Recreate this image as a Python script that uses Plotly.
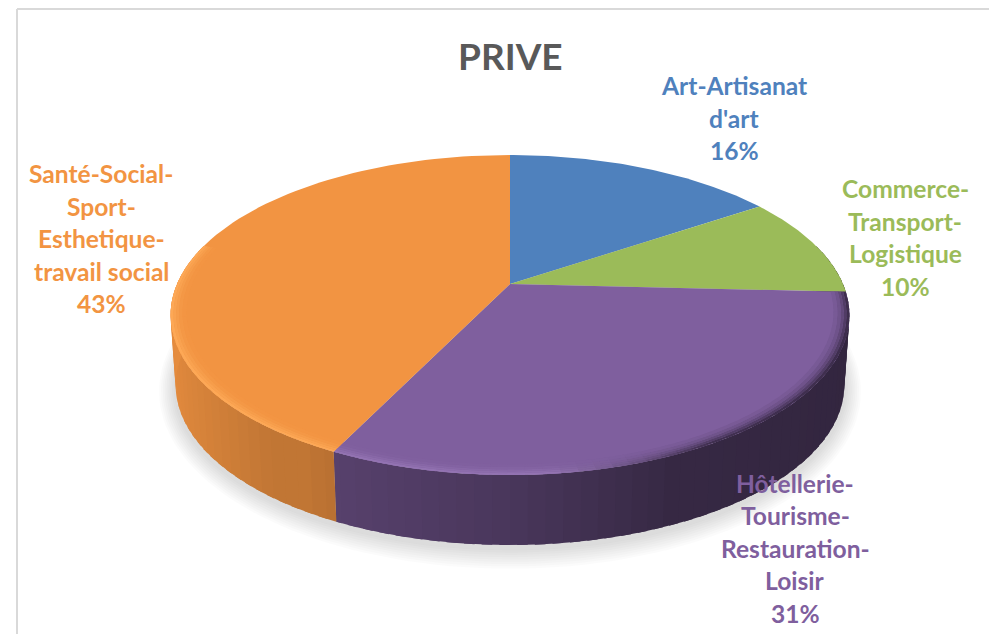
import numpy as np
import plotly.graph_objects as go

title = "PRIVE"
categories = ["Art-Artisanat d'art", "Commerce-Transport-Logistique",
              "Hôtellerie-Tourisme-Restauration-Loisir", "Santé-Social-Sport-Esthetique-travail social"]
values = [15.6, 10.2, 31.4, 42.8]
colors = ["#4F81BD", "#9BBB59", "#7F5F9E", "#F29442"]
label_lines = [
    ["Art-Artisanat", "d'art", "16%"],
    ["Commerce-", "Transport-", "Logistique", "10%"],
    ["Hôtellerie-", "Tourisme-", "Restauration-", "Loisir", "31%"],
    ["Santé-Social-", "Sport-", "Esthetique-", "travail social", "43%"],
]
label_x = [734, 905, 795, 101]
label_y0 = [85.5, 188.5, 483, 173.5]
label_pitch = 32.5
FONT = "Lato"
TEXT_SIZE = 24.6

# projection of the round pie on the page
CX, CY, A, B, K, DEPTH, SHRINK = 510, 284, 333, 154, -0.194, 70, 0.985


def proj(t_deg, r=1.0, depth=0.0):
    t = np.radians(t_deg)
    u, v = r * np.sin(t), -r * np.cos(t)
    d = 1 + K * v
    s = 1 - (1 - SHRINK) * depth
    return CX + s * A * u / d, CY + depth * DEPTH + B * v / d


def hex2rgb(h):
    return np.array([int(h[i:i + 2], 16) for i in (1, 3, 5)], float)


def css(c):
    return "rgb(%d,%d,%d)" % tuple(np.clip(c, 0, 255))


fig = go.Figure()


def poly(xs, ys, color):
    fig.add_trace(go.Scatter(x=list(xs), y=list(ys), mode="lines", fill="toself", fillcolor=color,
                             line=dict(width=0), hoverinfo="skip", showlegend=False))


edges = np.concatenate([[0], np.cumsum(values) / np.sum(values) * 360])


def slice_index(t):
    t = t % 360
    return min(int(np.searchsorted(edges, t, side="right")) - 1, len(values) - 1)


def stops(t_start, t_end, step):
    """Angles from t_start to t_end that also land on every slice boundary."""
    s = np.r_[np.arange(t_start, t_end, step), t_end, edges[(edges > t_start) & (edges < t_end)]]
    return np.unique(s)


def overlap_end(t1, tm, t_end, over):
    """Extend a quad a little so no seam shows, but never past its slice."""
    return min(t1 + over, edges[slice_index(tm) + 1], t_end)


# soft shadow
T = np.linspace(0, 360, 181)
for i in range(9, 0, -1):
    bx, by = proj(T, 1.0, 1.0)
    ex = CX + (bx - CX) * (1 + i * 0.0055)
    ey = CY + 70 + (by - CY - 70) * (1 + i * 0.012) + 3
    poly(ex, ey, "rgba(120,120,120,0.03)")

# side wall
XS = [-1.0, -0.6, -0.52, 0.0, 0.4, 1.0]
SHADE_L = [0.95, 0.80, 0.80, 0.58, 0.43, 0.42]
SHADE_P = [0.80, 0.73, 0.71, 0.58, 0.43, 0.40]
STEP = 2.5
OVER = 1.5
SIDE_START, SIDE_END = 75, 285


def side_color(t):
    c = hex2rgb(colors[slice_index(t)])
    x = np.sin(np.radians(t))
    shade = SHADE_L if slice_index(t) == 3 else SHADE_P
    return c * np.interp(x, XS, shade)


ts = stops(SIDE_START, SIDE_END, STEP)
for t0, t1 in zip(ts[:-1], ts[1:]):
    tm = (t0 + t1) / 2
    te = overlap_end(t1, tm, SIDE_END, OVER)
    x0, y0 = proj(t0)
    x1, y1 = proj(te)
    x2, y2 = proj(te, 1, 1)
    x3, y3 = proj(t0, 1, 1)
    poly([x0, x1, x2, x3], [y0, y1, y2, y3], css(side_color(tm)))

# top face
for i, col in enumerate(colors):
    t = np.linspace(edges[i], edges[i + 1], 80)
    x, y = proj(t)
    poly(np.r_[CX, x], np.r_[CY, y], col)

# rounded rim on the front of the face, fading inward
BANDS = [(1.0, 0.992, 0.85), (0.992, 0.984, 0.6), (0.984, 0.976, 0.38), (0.976, 0.966, 0.2), (0.966, 0.955, 0.08)]
ts_r = stops(edges[2], SIDE_END, STEP)
for r0, r1, w in BANDS:
    for t0, t1 in zip(ts_r[:-1], ts_r[1:]):
        tm = (t0 + t1) / 2
        te = overlap_end(t1, tm, SIDE_END, OVER)
        c = hex2rgb(colors[slice_index(tm)])
        x = np.sin(np.radians(tm))
        light = np.clip(c + 24, 0, 255)
        dark = side_color(tm)
        m = np.interp(x, [0.1, 0.5], [0, 1])
        target = light * (1 - m) + dark * m
        col = c * (1 - w) + target * w
        xa, ya = proj(t0, r0)
        xb, yb = proj(te, r0)
        xc, yc = proj(te, r1)
        xd, yd = proj(t0, r1)
        poly([xa, xb, xc, xd], [ya, yb, yc, yd], css(col))

# labels
annotations = [dict(x=510, y=55, text="<b>%s</b>" % title, showarrow=False, xanchor="center", yanchor="middle",
                    font=dict(family=FONT, size=37, color="#595959"))]
for lines, lx, ly, col in zip(label_lines, label_x, label_y0, colors):
    for j, line in enumerate(lines):
        annotations.append(dict(x=lx, y=ly + j * label_pitch, text="<b>%s</b>" % line, showarrow=False,
                                xanchor="center", yanchor="middle",
                                font=dict(family=FONT, size=TEXT_SIZE, color=col)))

frame = dict(color="#D9D9D9", width=2)
fig.update_layout(
    width=989, height=634, margin=dict(l=0, r=0, t=0, b=0),
    paper_bgcolor="white", plot_bgcolor="white", showlegend=False,
    xaxis=dict(range=[0, 989], visible=False, fixedrange=True),
    yaxis=dict(range=[634, 0], visible=False, fixedrange=True),
    annotations=annotations,
    shapes=[dict(type="line", x0=17, x1=17, y0=9, y1=634, line=frame),
            dict(type="line", x0=17, x1=989, y0=9, y1=9, line=frame)],
)
fig.write_html("out.html", config={"displayModeBar": False},
               post_script="document.body.style.margin='0';document.body.style.overflow='hidden';")
